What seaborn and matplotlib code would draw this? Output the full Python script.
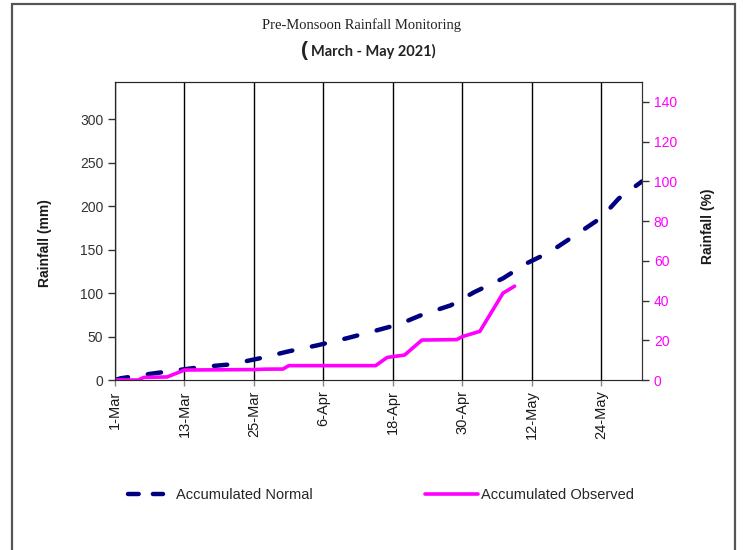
import pandas as pd
import seaborn as sns
import matplotlib.pyplot as plt
from matplotlib.lines import Line2D
from matplotlib.patches import Rectangle

# valores (mm acumulados)
normal_dates = ['2021-03-01', '2021-03-02', '2021-03-07', '2021-03-12', '2021-03-16',
                '2021-03-21', '2021-03-26', '2021-03-31', '2021-04-05', '2021-04-10',
                '2021-04-14', '2021-04-19', '2021-04-23', '2021-04-28', '2021-05-02',
                '2021-05-07', '2021-05-11', '2021-05-15', '2021-05-20', '2021-05-24',
                '2021-05-27', '2021-05-31']
normal_mm = [0, 2, 7, 11.5, 15, 18, 25, 33, 40, 48, 55, 64, 75, 86, 101,
             117, 134, 147, 169, 187, 209, 228.6]

observed_dates = ['2021-03-01', '2021-03-05', '2021-03-06', '2021-03-10', '2021-03-13',
                  '2021-03-25', '2021-03-27', '2021-03-30', '2021-03-31', '2021-04-15',
                  '2021-04-17', '2021-04-20', '2021-04-23', '2021-04-29', '2021-04-30',
                  '2021-05-03', '2021-05-07', '2021-05-09']
observed_mm = [0, 0, 3, 3.5, 11.5, 12, 12.5, 12.6, 16.5, 16.5,
               26, 28.7, 46, 46.5, 50, 56, 100, 108]

tick_dates = pd.date_range('2021-03-01', '2021-05-31', freq='12D')
tick_labels = [f'{d.day}-{d.strftime("%b")}' for d in tick_dates]
left_ticks = [0, 50, 100, 150, 200, 250, 300]
right_ticks = [0, 20, 40, 60, 80, 100, 120, 140]

sns.set_style('ticks')
plt.rcParams['font.family'] = ['Liberation Sans', 'DejaVu Sans']

fig = plt.figure(figsize=(7.43, 5.5), dpi=100)
ax = fig.add_axes([115/743, 1 - 380/550, (642 - 115)/743, (380 - 82)/550])

sns.lineplot(x=pd.to_datetime(normal_dates), y=normal_mm, ax=ax, color='#000080',
             lw=3.2, linestyle=(0, (3, 4.5)), dash_capstyle='round')
sns.lineplot(x=pd.to_datetime(observed_dates), y=observed_mm, ax=ax, color='#FF00FF',
             lw=2.6)

ax.set_xlim(pd.Timestamp('2021-03-01'), pd.Timestamp('2021-05-31'))
ax.set_ylim(0, 343)
ax.set_xticks(tick_dates)
ax.set_xticklabels(tick_labels, rotation=90, fontsize=10.5, color='#1a1a1a')
ax.set_yticks(left_ticks)
ax.set_yticklabels(left_ticks, fontsize=10, color='#333333')
ax.grid(axis='x', color='black', lw=1)
ax.set_xlabel('')
ax.set_ylabel('')
ax.tick_params(axis='y', length=5, width=1, colors='#333333')
ax.tick_params(axis='x', length=4, width=1, color='#888888')
for s in ['left', 'top', 'right']:
    ax.spines[s].set_color('#333333')
ax.spines['bottom'].set_color('#999999')

# eje derecho en % del normal
ax2 = ax.twinx()
ax2.set_ylim(0, 150)
ax2.set_yticks(right_ticks)
ax2.set_yticklabels(right_ticks, fontsize=10, color='#FF00FF')
ax2.tick_params(axis='y', length=5, width=1, color='#333333')
ax2.spines['right'].set_color('#333333')

fig.text(45/743, 1 - 243/550, 'Rainfall (mm)', rotation=90, fontsize=10,
         fontweight='bold', ha='center', va='center', color='#1a1a1a')
fig.text(708/743, 1 - 226/550, 'Rainfall (%)', rotation=90, fontsize=10,
         fontweight='bold', ha='center', va='center', color='#1a1a1a')

fig.text(361/743, 1 - 25/550, 'Pre-Monsoon Rainfall Monitoring', family='Liberation Serif',
         fontsize=10.5, ha='center', va='center', color='#222222')
fig.text(304/743, 1 - 51/550, '(', fontsize=15, fontweight='bold', ha='center',
         va='center', color='#222222')
fig.text(311/743, 1 - 51/550, 'March - May 2021)', family='Lato', fontsize=10.5,
         fontweight='bold', ha='left', va='center', color='#222222')

# leyendas separadas como en el original
h1 = Line2D([], [], color='#000080', lw=3.2, linestyle=(0, (2.4, 3.2)), dash_capstyle='round')
h2 = Line2D([], [], color='#FF00FF', lw=2.6)
fig.legend(handles=[h1], labels=['Accumulated Normal'], loc='center left',
           bbox_to_anchor=(115/743, 1 - 495/550), frameon=False, fontsize=10.5,
           handlelength=2.4, handletextpad=0.9)
fig.legend(handles=[h2], labels=['Accumulated Observed'], loc='center left',
           bbox_to_anchor=(412/743, 1 - 495/550), frameon=False, fontsize=10.5,
           handlelength=3.6, handletextpad=0.2)

# marco exterior
fig.add_artist(Rectangle((12/743, -0.05), (735 - 12)/743, 1 + 0.05 - 4/550,
                         transform=fig.transFigure, fill=False, ec='#555555', lw=1.6))

plt.savefig('out.png', dpi=100)
